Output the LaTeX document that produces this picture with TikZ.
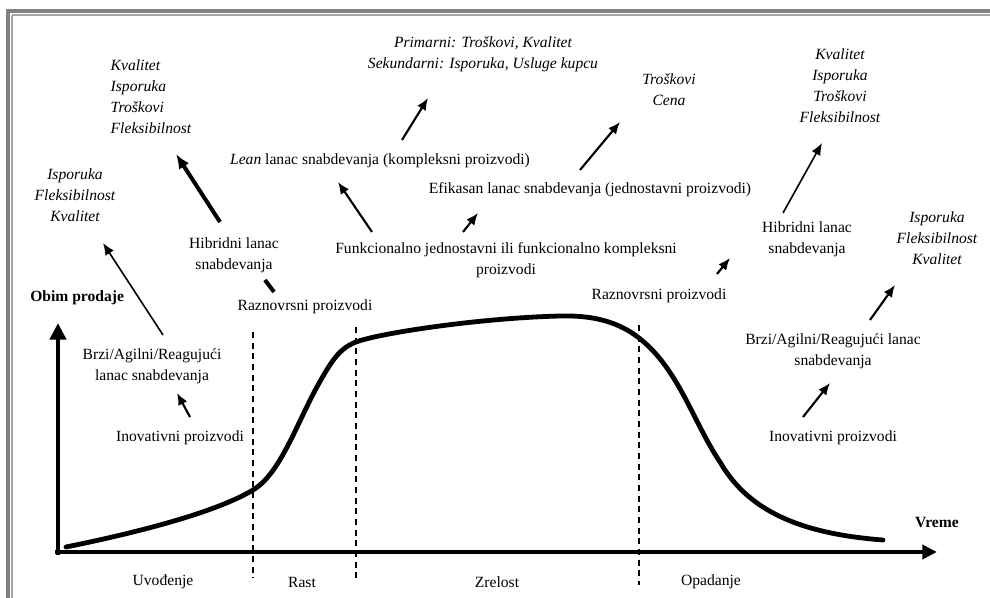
\documentclass[tikz,border=0pt]{standalone}
\usepackage{fontspec}
\setmainfont{Liberation Serif}
\usetikzlibrary{arrows.meta}
\begin{document}
\begin{tikzpicture}[x=0.75pt,y=-0.75pt,
  txt/.style={inner sep=0pt, align=center, font=\fontsize{11.7}{15.8}\selectfont},
  itxt/.style={inner sep=0pt, align=center, font=\fontsize{11.7}{15.8}\selectfont\itshape},
  btxt/.style={inner sep=0pt, font=\fontsize{11.7}{15.8}\selectfont\bfseries},
  axisline/.style={line width=3.7pt},
  curve/.style={line width=3.6pt, line cap=round, line join=round},
  phase/.style={line width=1.5pt, dash pattern=on 4.5pt off 3.5pt},
  thickarr/.style={line width=3pt, -{Latex[length=11pt,width=9pt]}},
  midarr/.style={line width=1.6pt, -{Latex[length=9pt,width=7.5pt]}},
  thinarr/.style={line width=1.2pt, -{Latex[length=9pt,width=7.5pt]}},
  framedark/.style={fill=black!50},
  framelight/.style={draw=black!35, line width=0.9pt}
]
\useasboundingbox (0,0) rectangle (990,598);
\fill[white] (0,0) rectangle (990,598);

% window frame
\fill[framedark] (6,9) rectangle (990,13);
\fill[framedark] (6,9) rectangle (10,598);
\draw[framelight] (12,15) -- (990,15);
\draw[framelight] (12,15) -- (12,598);

% axes
\coordinate (ytip) at (58,323);
\coordinate (xtip) at (937,552);
\draw[axisline, -{Triangle[length=12.5pt,width=12pt]}] (58,555) -- (ytip);
\draw[axisline, -{Triangle[length=11pt,width=10.5pt]}] (55,552) -- (xtip);

% phase boundaries
\draw[phase] (253,332) -- (253,578);
\draw[phase] (356,327) -- (356,578);
\draw[phase] (639,325) -- (639,585);

% sales curve over the life cycle
\draw[curve] (66,547) .. controls (150,530) and (220,510) .. (253,490)
  .. controls (280,474) and (296,425) .. (318,385)
  .. controls (332,360) and (340,348) .. (356,342)
  .. controls (380,333) and (480,318) .. (560,316)
  .. controls (600,315) and (625,325) .. (645,343)
  .. controls (680,374) and (695,425) .. (720,462)
  .. controls (745,505) and (790,533) .. (883,540);

% axis labels
\node[btxt, anchor=west] (obim) at (30,298) {Obim prodaje};
\node[btxt] (vreme) at (937,523) {Vreme};

% phase names
\node[txt] (uvod) at (163,582) {Uvođenje};
\node[txt] (rast) at (302,582) {Rast};
\node[txt] (zrel) at (497,582) {Zrelost};
\node[txt] (opad) at (711,582) {Opadanje};

% introduction phase
\node[txt] (inovL) at (180,438) {Inovativni proizvodi};
\node[txt] (brziL) at (152,366) {Brzi/Agilni/Reagujući\\lanac snabdevanja};
\node[itxt] (prioL) at (75,195) {Isporuka\\Fleksibilnost\\Kvalitet};

% growth phase
\node[txt] (raznL) at (305,307) {Raznovrsni proizvodi};
\node[txt] (hibL) at (234,255) {Hibridni lanac\\snabdevanja};
\node[itxt, align=left] (prioH) at (151,97) {Kvalitet\\Isporuka\\Troškovi\\Fleksibilnost};

% maturity phase
\node[txt] (funk) at (506,260) {Funkcionalno jednostavni ili funkcionalno kompleksni\\proizvodi};
\node[txt] (lean) at (380,161) {\textit{Lean} lanac snabdevanja (kompleksni proizvodi)};
\node[txt] (efik) at (590,190) {Efikasan lanac snabdevanja (jednostavni proizvodi)};
\node[itxt] (prioLean) at (483,54) {Primarni: Troškovi, Kvalitet\\Sekundarni: Isporuka, Usluge kupcu};
\node[itxt] (prioEf) at (669,90) {Troškovi\\Cena};

% decline phase
\node[txt] (raznR) at (659,296) {Raznovrsni proizvodi};
\node[txt] (hibR) at (807,239) {Hibridni lanac\\snabdevanja};
\node[itxt] (prioHR) at (840,86) {Kvalitet\\Isporuka\\Troškovi\\Fleksibilnost};
\node[txt] (brziR) at (833,351) {Brzi/Agilni/Reagujući lanac\\snabdevanja};
\node[txt] (inovR) at (833,438) {Inovativni proizvodi};
\node[itxt] (prioR) at (937,238) {Isporuka\\Fleksibilnost\\Kvalitet};

% arrow end points
\coordinate (a1s) at (190,417); \coordinate (a1e) at (177,393);
\coordinate (a2s) at (163,335); \coordinate (a2e) at (103,243);
\coordinate (a3s) at (220,222); \coordinate (a3e) at (176,154);
\coordinate (a4s) at (265,280); \coordinate (a4e) at (274,292);
\coordinate (a5s) at (372,232); \coordinate (a5e) at (338,182);
\coordinate (a6s) at (463,232); \coordinate (a6e) at (478,213);
\coordinate (a7s) at (402,140); \coordinate (a7e) at (428,98);
\coordinate (a8s) at (580,170); \coordinate (a8e) at (620,122);
\coordinate (a9s) at (717,274); \coordinate (a9e) at (730,258);
\coordinate (a10s) at (783,213); \coordinate (a10e) at (822,143);
\coordinate (a11s) at (803,417); \coordinate (a11e) at (830,383);
\coordinate (a12s) at (870,320); \coordinate (a12e) at (895,285);

% connectors
\draw[midarr] (a1s) -- (a1e);
\draw[thinarr] (a2s) -- (a2e);
\draw[thickarr] (a3s) -- (a3e);
\draw[line width=3pt] (a4s) -- (a4e);
\draw[midarr] (a5s) -- (a5e);
\draw[midarr] (a6s) -- (a6e);
\draw[midarr] (a7s) -- (a7e);
\draw[midarr] (a8s) -- (a8e);
\draw[midarr] (a9s) -- (a9e);
\draw[thinarr] (a10s) -- (a10e);
\draw[midarr] (a11s) -- (a11e);
\draw[midarr] (a12s) -- (a12e);
\end{tikzpicture}
\end{document}
